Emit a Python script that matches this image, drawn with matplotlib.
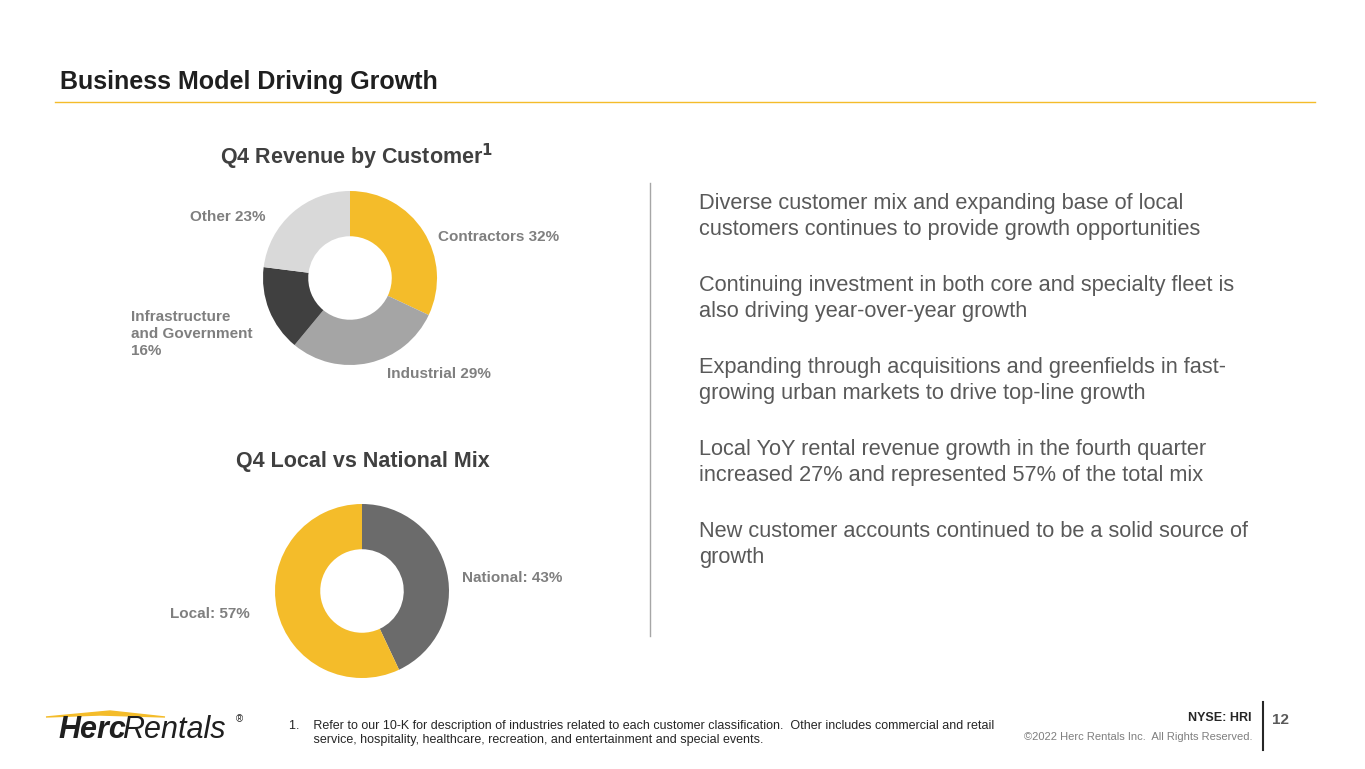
import matplotlib.pyplot as plt
from matplotlib.patches import Polygon

W, H = 1365, 769

customer_labels = ["Contractors 32%", "Industrial 29%", "Infrastructure\nand Government\n16%", "Other 23%"]
customer_values = [32, 29, 16, 23]
customer_colors = ["#f4bc2a", "#a5a5a5", "#404040", "#d9d9d9"]

mix_labels = ["National: 43%", "Local: 57%"]
mix_values = [43, 57]
mix_colors = ["#6b6b6b", "#f4bc2a"]

bullets = [
    "Diverse customer mix and expanding base of local\ncustomers continues to provide growth opportunities",
    "Continuing investment in both core and specialty fleet is\nalso driving year-over-year growth",
    "Expanding through acquisitions and greenfields in fast-\ngrowing urban markets to drive top-line growth",
    "Local YoY rental revenue growth in the fourth quarter\nincreased 27% and represented 57% of the total mix",
    "New customer accounts continued to be a solid source of\ngrowth",
]

plt.rcParams["font.family"] = ["Liberation Sans", "DejaVu Sans"]

fig = plt.figure(figsize=(W / 100, H / 100), dpi=100)


def fx(x):
    return x / W


def fy(y):
    return 1 - y / H


def txt(x, y, s, **kw):
    fig.text(fx(x), fy(y), s, **kw)


def donut(cx, cy, r, values, colors):
    ax = fig.add_axes([fx(cx - r), fy(cy + r), 2 * r / W, 2 * r / H])
    ax.pie(values, colors=colors, startangle=90, counterclock=False,
           wedgeprops=dict(width=0.52, edgecolor="white", linewidth=0))
    ax.set_xlim(-1, 1)
    ax.set_ylim(-1, 1)
    ax.set_aspect("equal")
    ax.axis("off")
    return ax


# header
txt(60, 82, "Business Model Driving Growth", fontsize=18, fontweight="bold", color="#1f1f1f", va="center")
fig.add_artist(plt.Line2D([fx(55), fx(1315)], [fy(102), fy(102)], color="#f4bc2a", lw=1))

# donut 1
txt(357, 157, "Q4 Revenue by Customer$^{\\mathbf{1}}$", fontsize=15.5, fontweight="bold", color="#404040", ha="center", va="center")
donut(350, 278, 87, customer_values, customer_colors)
lab = dict(fontsize=11, fontweight="bold", color="#7f7f7f")
txt(438, 237, customer_labels[0], va="center", **lab)
txt(387, 374, customer_labels[1], va="center", **lab)
txt(131, 334, customer_labels[2], va="center", linespacing=1.3, **lab)
txt(266, 217, customer_labels[3], va="center", ha="right", **lab)

# donut 2
txt(363, 462, "Q4 Local vs National Mix", fontsize=15.5, fontweight="bold", color="#404040", ha="center", va="center")
donut(362, 591, 87, mix_values, mix_colors)
txt(462, 578, mix_labels[0], va="center", **lab)
txt(250, 614, mix_labels[1], va="center", ha="right", **lab)

# divider
fig.add_artist(plt.Line2D([fx(650), fx(650)], [fy(183), fy(636)], color="#a6a6a6", lw=1))

# bullets
y = 193
for b in bullets:
    txt(699, y, b, fontsize=15.7, color="#595959", va="top", linespacing=1.3)
    y += 82

# footer
txt(58, 730, "Herc", fontsize=22, fontweight="bold", fontstyle="italic", color="#1f1f1f", va="center")
txt(122, 730, "Rentals", fontsize=22, fontstyle="italic", color="#1f1f1f", va="center")
txt(236, 719, "®", fontsize=7, color="#1f1f1f", va="center")
fig.add_artist(Polygon([[fx(46), fy(717)], [fx(110), fy(711)], [fx(165), fy(717)], [fx(100), fy(715)]],
                       closed=True, color="#f4bc2a"))
txt(289, 733, "1.    Refer to our 10-K for description of industries related to each customer classification.  Other includes commercial and retail\n       service, hospitality, healthcare, recreation, and entertainment and special events.",
    fontsize=9, color="#262626", va="center", linespacing=1.25)
txt(1252, 718, "NYSE: HRI", fontsize=9, fontweight="bold", color="#262626", ha="right", va="center")
txt(1252, 737, "©2022 Herc Rentals Inc.  All Rights Reserved.", fontsize=8, color="#7f7f7f", ha="right", va="center")
fig.add_artist(plt.Line2D([fx(1263), fx(1263)], [fy(702), fy(750)], color="#262626", lw=1.5))
txt(1272, 720, "12", fontsize=11, fontweight="bold", color="#595959", va="center")

fig.savefig("out.png", dpi=100)
